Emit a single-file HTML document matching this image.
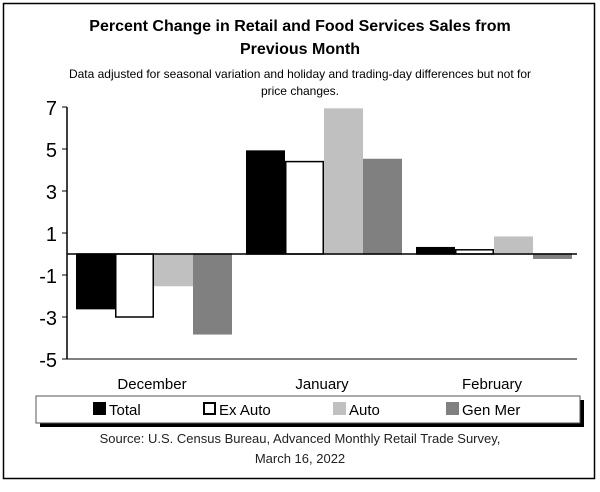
<!DOCTYPE html>
<html><head><meta charset="utf-8"><style>
body{margin:0;background:#fff;width:600px;height:487px;overflow:hidden}
svg text{font-family:"Liberation Sans",sans-serif}
</style></head><body>
<svg width="600" height="487">
<rect x="3.5" y="3.5" width="591" height="475" fill="#fff" stroke="#000" stroke-width="1.5"/>
<text x="300" y="31" text-anchor="middle" font-size="16" font-weight="bold">Percent Change in Retail and Food Services Sales from</text>
<text x="300" y="54" text-anchor="middle" font-size="16" font-weight="bold">Previous Month</text>
<text x="300" y="78" text-anchor="middle" font-size="12">Data adjusted for seasonal variation and holiday and trading-day differences but not for</text>
<text x="300" y="95" text-anchor="middle" font-size="12">price changes.</text>
<g id="plot"></g>
<rect x="40" y="400" width="544" height="27" fill="#000"/>
<rect x="36" y="396" width="544" height="27" fill="#fff" stroke="#555"/>
<g id="legend"></g>
<text x="300" y="443" text-anchor="middle" font-size="13" fill="#222">Source: U.S. Census Bureau, Advanced Monthly Retail Trade Survey,</text>
<text x="300" y="463" text-anchor="middle" font-size="13" fill="#222">March 16, 2022</text>
</svg>
<script>
const categories=["December","January","February"];
const seriesNames=["Total","Ex Auto","Auto","Gen Mer"];
const totalVals=[-2.6,4.9,0.3];
const exAutoVals=[-3.0,4.4,0.2];
const autoVals=[-1.5,6.9,0.8];
const genMerVals=[-3.8,4.5,-0.2];
const yTicks=[7,5,3,1,-1,-3,-5];
const series=[totalVals,exAutoVals,autoVals,genMerVals];
const fills=["#000","#fff","#c0c0c0","#808080"];
const strokes=["#000","#000","#c0c0c0","#808080"];
const NS="http://www.w3.org/2000/svg";
const x0=67,x1=577,yMin=-5,yMax=7,pTop=107,pBot=359;
const y=v=>pTop+(yMax-v)/(yMax-yMin)*(pBot-pTop);
const catW=(x1-x0)/categories.length,barW=39,gap=9;
const plot=document.getElementById('plot');
function mk(tag,attrs,parent){const e=document.createElementNS(NS,tag);for(const k in attrs)e.setAttribute(k,attrs[k]);parent.appendChild(e);return e;}
yTicks.forEach(t=>{
  const e=mk('text',{x:x0-10,y:y(t)+8,'text-anchor':'end','font-size':'20'},plot);
  
  
  e.textContent=t;
  const tk=mk('line',{x1:x0-5,x2:x0,y1:y(t),y2:y(t),stroke:'#000'},plot);
  
  
});
categories.forEach((c,i)=>{
  series.forEach((s,j)=>{
    const v=s[i],bx=x0+i*catW+gap+j*barW;
    const r=mk('rect',{x:bx+0.75,y:Math.min(y(v),y(0)),width:barW-1.5,height:Math.abs(y(v)-y(0)),fill:fills[j],stroke:strokes[j],'stroke-width':1.5},plot);
    
    
  });
  const l=mk('text',{x:x0+i*catW+catW/2,y:389,'text-anchor':'middle','font-size':'15'},plot);
  
  
  l.textContent=c;
});
const ya=mk('line',{x1:x0,x2:x0,y1:pTop,y2:pBot,stroke:'#000','stroke-width':1.5},plot);


const za=mk('line',{x1:x0,x2:x1,y1:y(0),y2:y(0),stroke:'#000','stroke-width':1.5},plot);


const ba=mk('line',{x1:x0,x2:x1,y1:pBot,y2:pBot,stroke:'#000','stroke-width':1},plot);


const lg=document.getElementById('legend');
const lx=[93,203,333,446];
seriesNames.forEach((n,j)=>{
  const s=mk('rect',{x:lx[j]+1,y:403,width:11,height:11,fill:fills[j],stroke:strokes[j],'stroke-width':2},lg);
  
  
  const t=mk('text',{x:lx[j]+16,y:415,'font-size':'15'},lg);
  
  
  t.textContent=n;
});
</script>
</body></html>
